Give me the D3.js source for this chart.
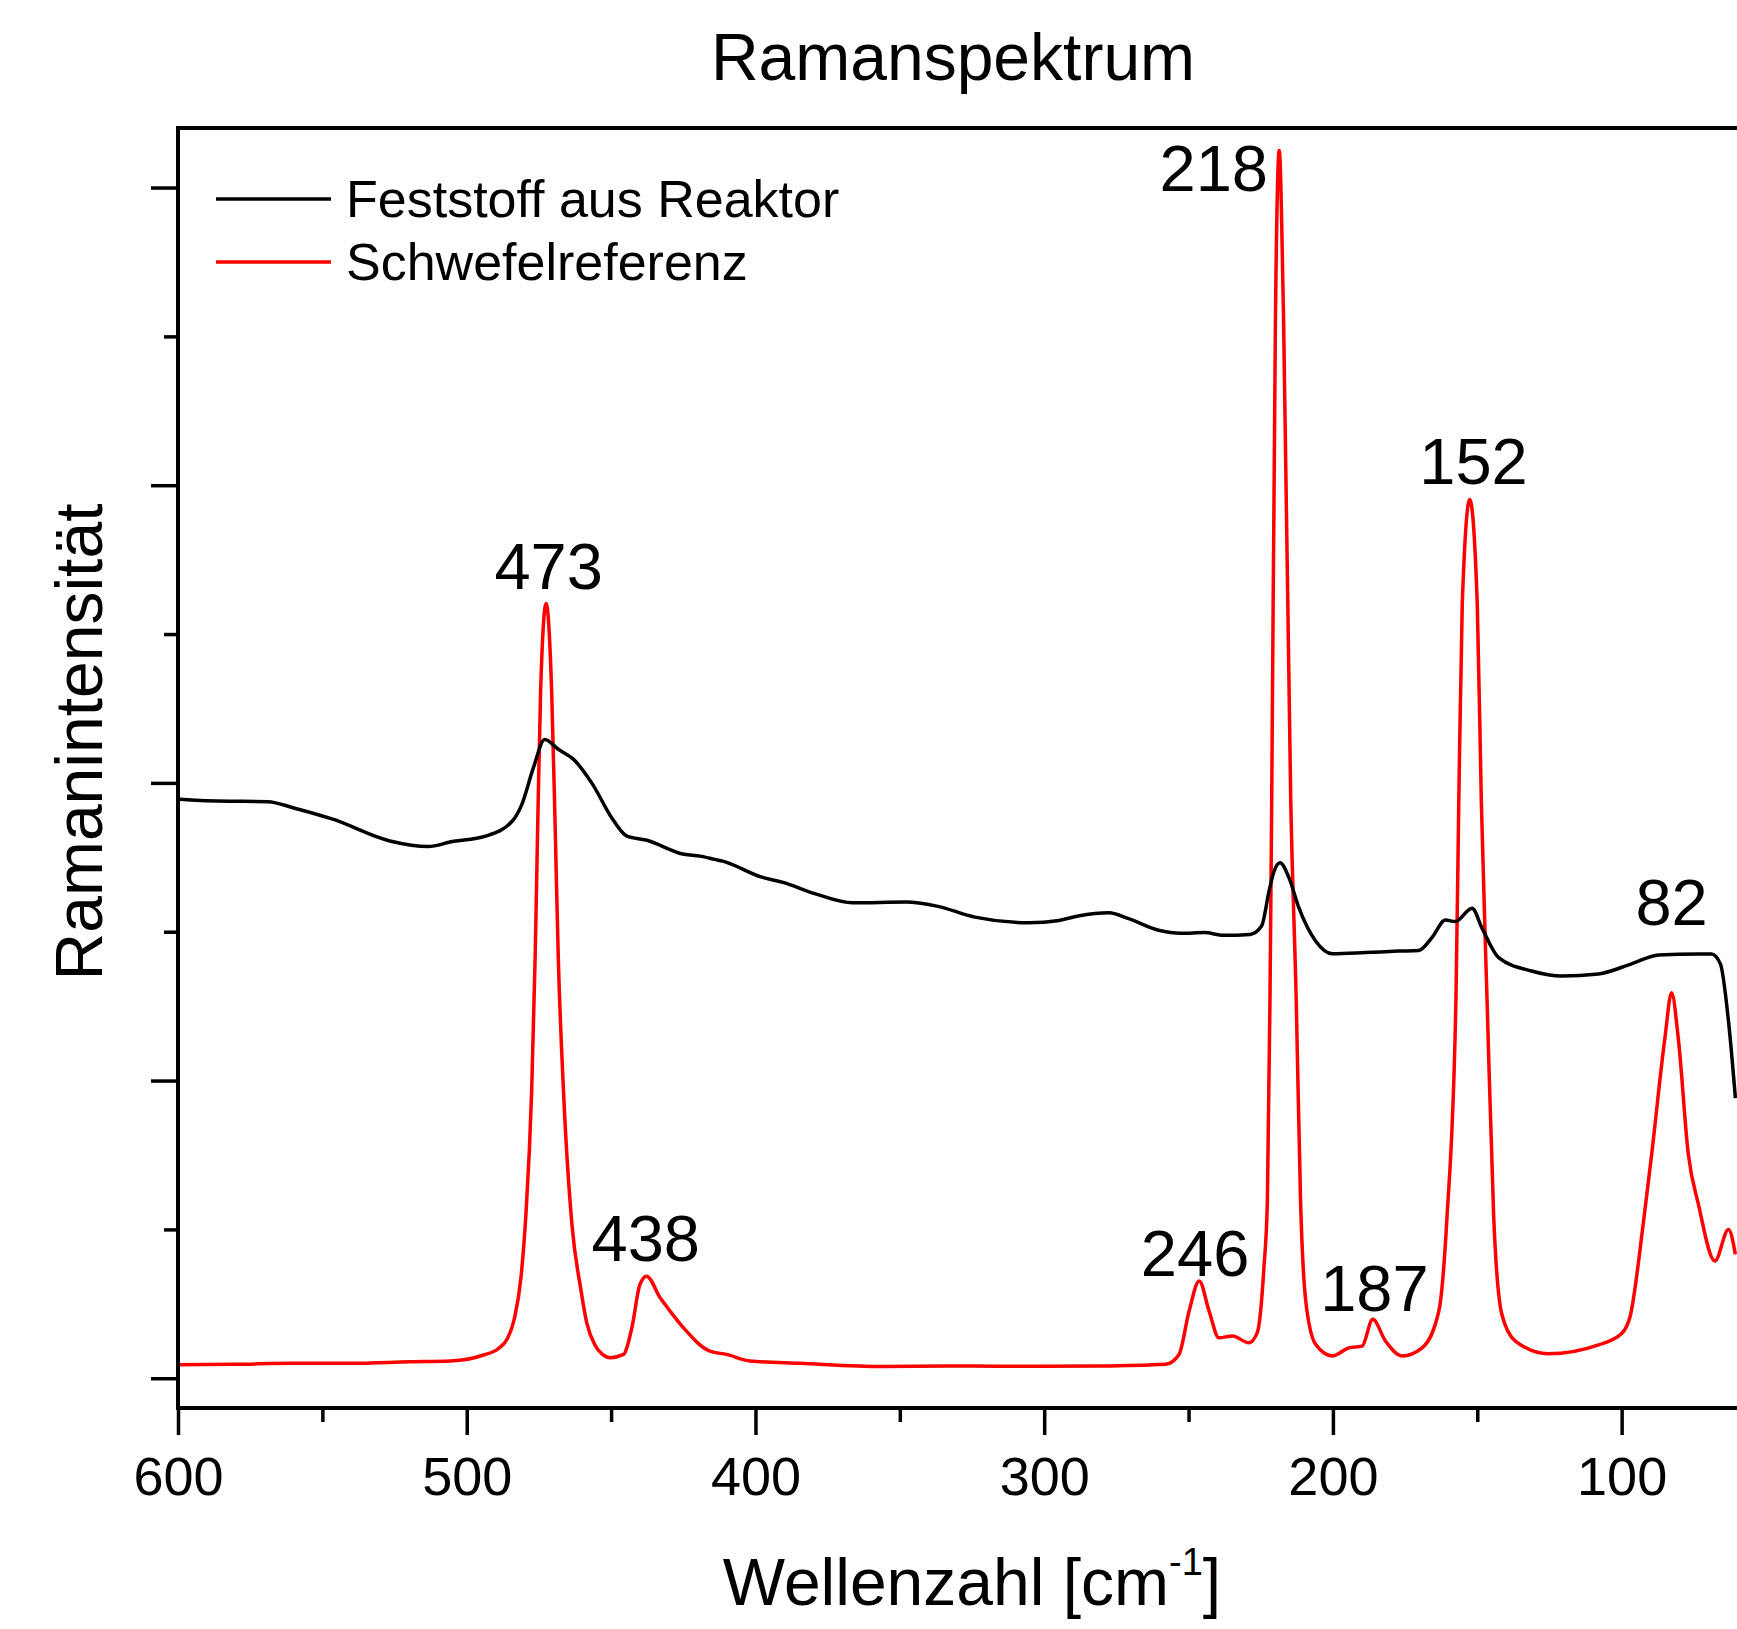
<!DOCTYPE html>
<html>
<head>
<meta charset="utf-8">
<script src="https://cdn.jsdelivr.net/npm/d3@7"></script>
<style>
  body { margin: 0; background: #fff; }
  text { font-family: "Liberation Sans", Arial, sans-serif; fill: #000; }
</style>
</head>
<body>
<div id="chart"></div>
<script>
// Feststoff aus Reaktor (black)
var feststoffWavenumber = [600, 599.3, 586.1, 568.9, 559.6, 546.4, 526.6, 513.3, 505.4, 493.5, 484.2, 480.9,
  476.9, 473, 468.3, 463, 456.4, 449.8, 444.5, 437.9, 424.7, 419.2, 414.1, 411.3, 398.1, 390.1, 379.5,
  366.3, 347.8, 337.2, 324, 305.4, 294.8, 288.2, 277.6, 271, 260.4, 252.5, 244.5, 237.9, 228.7, 224.7,
  222.1, 220.5, 218.3, 215.2, 211.8, 206, 200.2, 188.7, 177.2, 170.3, 165.7, 161, 157.6, 151.8, 148.4,
  142.6, 131.2, 120.8, 108, 96.6, 87.2, 73.4, 68.9, 65.8, 63, 60.6];
var feststoffIntensity = [1.95, 1.945, 1.939, 1.937, 1.915, 1.878, 1.805, 1.786, 1.802, 1.821, 1.872, 1.928,
  2.051, 2.146, 2.113, 2.079, 1.995, 1.883, 1.821, 1.808, 1.76, 1.754, 1.743, 1.737, 1.684, 1.665, 1.628,
  1.597, 1.6, 1.586, 1.549, 1.53, 1.538, 1.553, 1.564, 1.545, 1.505, 1.495, 1.497, 1.488, 1.491, 1.519,
  1.637, 1.70, 1.732, 1.681, 1.581, 1.469, 1.426, 1.43, 1.435, 1.437, 1.48, 1.539, 1.534, 1.579, 1.513,
  1.413, 1.368, 1.351, 1.358, 1.392, 1.422, 1.425, 1.425, 1.392, 1.2, 0.941];

// Schwefelreferenz (red)
var schwefelWavenumber = [600, 580, 560, 540, 520, 505.7, 494.2, 489, 486.1, 483.5, 481.2, 479.5, 477.5, 476.3, 475.4,
  474.4, 472.5, 470.6, 469.4, 468.3, 466.5, 463.6, 460.5, 458.4, 455.5, 453, 450.3, 445.7, 442.8, 440,
  437.7, 433, 429.6, 425, 415.8, 410, 401.9, 384.6, 355.8, 332.8, 300, 280.9, 257.9, 253.3, 249.8,
  246.3, 242.9, 239.5, 234.8, 229.1, 226.2, 223.9, 222.7, 221.8, 221.2, 219.9, 218.6, 217.1, 214.6,
  212.7, 211.2, 209.4, 206, 200.2, 194.5, 189.9, 186.2, 181.8, 176, 169.1, 163.3, 160.5, 157.4, 156.4,
  155.2, 152.6, 150, 148.6, 146.6, 144.3, 141.5, 136.8, 125.4, 108, 100, 97, 92.4, 89.6, 85, 82.7,
  80.4, 76.9, 73.4, 67.7, 63, 60.6];
var schwefelIntensity = [0.045, 0.047, 0.05, 0.05, 0.055, 0.058, 0.078, 0.1, 0.13, 0.2, 0.34, 0.55, 0.968, 1.416, 1.864,
  2.312, 2.603, 2.312, 1.864, 1.416, 0.968, 0.52, 0.3, 0.185, 0.11, 0.08, 0.069, 0.08, 0.17, 0.315,
  0.343, 0.27, 0.226, 0.17, 0.091, 0.08, 0.058, 0.05, 0.039, 0.041, 0.04, 0.041, 0.047, 0.08, 0.226,
  0.327, 0.226, 0.136, 0.142, 0.119, 0.153, 0.371, 0.595, 1.267, 1.939, 3.563, 4.124, 3.563, 1.939,
  1.267, 0.595, 0.259, 0.114, 0.075, 0.102, 0.108, 0.198, 0.125, 0.075, 0.102, 0.226, 0.539, 1.267, 1.939,
  2.6, 2.952, 2.6, 1.939, 1.267, 0.539, 0.215, 0.125, 0.082, 0.112, 0.15, 0.21, 0.528, 0.752, 1.144, 1.295,
  1.144, 0.752, 0.584, 0.394, 0.5, 0.416];

var seriesNames = ["Feststoff aus Reaktor", "Schwefelreferenz"];
var peakLabels = [473, 438, 246, 218, 187, 152, 82];
var xTicks = [600, 500, 400, 300, 200, 100];
var xMinorTicks = [550, 450, 350, 250, 150];
var yTicks = [0, 1, 2, 3, 4];
var yMinorTicks = [0.5, 1.5, 2.5, 3.5];

var svgWidth = 1737;
var svgHeight = 1629;

var plot = { left: 178, top: 128, right: 1766, bottom: 1408 };

var svg = d3.select("#chart")
  .append("svg")
  .attr("width", svgWidth)
  .attr("height", svgHeight)
  .style("background", "#fff");

var x = d3.scaleLinear().domain([600, 50]).range([plot.left, plot.right]);
var y = d3.scaleLinear().domain([-0.1, 4.2]).range([plot.bottom, plot.top]);

// build point lists
var feststoff = feststoffWavenumber.map((w, i) => ({ w: w, v: feststoffIntensity[i] }));
var schwefel = schwefelWavenumber.map((w, i) => ({ w: w, v: schwefelIntensity[i] }));

svg.append("clipPath").attr("id", "plotClip")
  .append("rect")
  .attr("x", plot.left).attr("y", plot.top)
  .attr("width", plot.right - plot.left).attr("height", plot.bottom - plot.top);

var line = d3.line()
  .x(d => x(d.w))
  .y(d => y(d.v))
  .curve(d3.curveMonotoneX);

var lines = svg.append("g").attr("clip-path", "url(#plotClip)");

lines.append("path")
  .datum(schwefel)
  .attr("fill", "none")
  .attr("stroke", "#f00")
  .attr("stroke-width", 3.5)
  .attr("d", line);

lines.append("path")
  .datum(feststoff)
  .attr("fill", "none")
  .attr("stroke", "#000")
  .attr("stroke-width", 3.5)
  .attr("d", line);

// frame
svg.append("rect")
  .attr("x", plot.left).attr("y", plot.top)
  .attr("width", plot.right - plot.left).attr("height", plot.bottom - plot.top)
  .attr("fill", "none")
  .attr("stroke", "#000")
  .attr("stroke-width", 4);

// x axis
var xAxis = svg.append("g")
  .attr("transform", `translate(0, ${plot.bottom})`)
  .call(d3.axisBottom(x).tickValues(xTicks).tickSize(27).tickPadding(22).tickFormat(d3.format("d")));
xAxis.select(".domain").remove();
xAxis.selectAll("line").attr("stroke-width", 3.5);
xAxis.selectAll("text").attr("font-size", 54).attr("font-family", null);

var xMinor = svg.append("g")
  .attr("transform", `translate(0, ${plot.bottom})`)
  .call(d3.axisBottom(x).tickValues(xMinorTicks).tickSize(14).tickFormat(""));
xMinor.select(".domain").remove();
xMinor.selectAll("line").attr("stroke-width", 3.5);

// y axis (no labels)
var yAxis = svg.append("g")
  .attr("transform", `translate(${plot.left}, 0)`)
  .call(d3.axisLeft(y).tickValues(yTicks).tickSize(27).tickFormat(""));
yAxis.select(".domain").remove();
yAxis.selectAll("line").attr("stroke-width", 3.5);

var yMinor = svg.append("g")
  .attr("transform", `translate(${plot.left}, 0)`)
  .call(d3.axisLeft(y).tickValues(yMinorTicks).tickSize(14).tickFormat(""));
yMinor.select(".domain").remove();
yMinor.selectAll("line").attr("stroke-width", 3.5);

// title and axis labels
svg.append("text")
  .attr("x", 953).attr("y", 80)
  .attr("text-anchor", "middle")
  .attr("font-size", 66)
  .text("Ramanspektrum");

var xLabel = svg.append("text")
  .attr("x", 972).attr("y", 1605)
  .attr("text-anchor", "middle")
  .attr("font-size", 66);
xLabel.append("tspan").text("Wellenzahl [cm");
xLabel.append("tspan").attr("font-size", 38).attr("dy", -30).text("-1");
xLabel.append("tspan").attr("dy", 30).text("]");

svg.append("text")
  .attr("transform", "translate(102, 742) rotate(-90)")
  .attr("text-anchor", "middle")
  .attr("font-size", 66)
  .text("Ramanintensität");

// legend
var legendColors = ["#000", "#f00"];
var legend = svg.append("g");
seriesNames.forEach(function(name, i) {
  var ly = 199 + i * 63;
  legend.append("line")
    .attr("x1", 216).attr("x2", 331)
    .attr("y1", ly).attr("y2", ly)
    .attr("stroke", legendColors[i])
    .attr("stroke-width", 3.5);
  legend.append("text")
    .attr("x", 346).attr("y", ly + 18)
    .attr("font-size", 52)
    .text(name);
});

// peak labels, placed on the nearest point of the reference curve
var labelOffsets = {
  473: { dx: 4, dy: -14 },
  438: { dx: 0, dy: -15 },
  246: { dx: -5, dy: -5 },
  218: { dx: -13, dy: 40, anchor: "end" },
  187: { dx: 4, dy: -8 },
  152: { dx: 2, dy: -15 },
  82: { dx: -2, dy: -68 }
};

peakLabels.forEach(function(p) {
  var nearest = schwefel.reduce((a, b) => Math.abs(b.w - p) < Math.abs(a.w - p) ? b : a);
  var off = labelOffsets[p];
  svg.append("text")
    .attr("x", x(p) + off.dx)
    .attr("y", y(nearest.v) + off.dy)
    .attr("text-anchor", off.anchor || "middle")
    .attr("font-size", 65)
    .text(p);
});
</script>
</body>
</html>
